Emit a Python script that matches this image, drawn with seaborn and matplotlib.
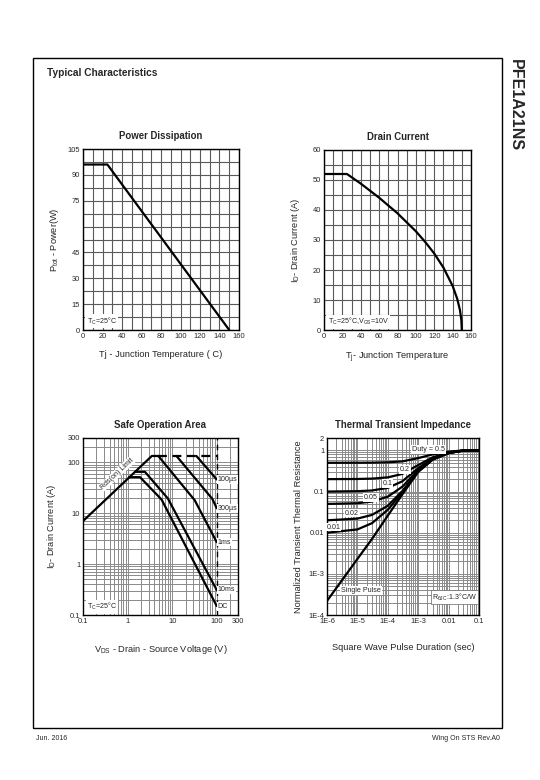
import matplotlib
matplotlib.use("Agg")
import matplotlib.pyplot as plt
import numpy as np
import seaborn as sns
from matplotlib.patches import Rectangle
from matplotlib.ticker import FixedLocator, LogLocator, MultipleLocator, NullFormatter

# Power dissipation vs junction temperature
pd_temp = [0, 25, 150]
pd_power = [96, 96, 0]

# Drain current vs junction temperature
dc_temp = [0, 25, 40, 60, 80, 100, 110, 120, 130, 140, 145, 148, 149.5, 150]
dc_current = [52, 52, 48.8, 44.1, 38.9, 32.9, 29.4, 25.5, 20.8, 14.7, 10.4, 6.6, 3.3, 0]

# Safe operating area (V, A)
soa_rds_v = [0.1, 3.5, 4.9]
soa_rds_i = [7, 133, 133]
soa_dash_v = [4.9, 100]
soa_dash_i = [133, 133]
soa_100us_v = [35, 100]
soa_100us_i = [133, 46]
soa_300us_v = [12.5, 80, 100]
soa_300us_i = [133, 19, 12.5]
soa_1ms_v = [4.9, 32, 100]
soa_1ms_i = [133, 18, 2.7]
soa_10ms_v = [1.47, 2.45, 8, 100]
soa_10ms_i = [65, 65, 19.5, 0.31]
soa_dc_v = [1.09, 1.9, 5.8, 100]
soa_dc_i = [51, 51, 18.5, 0.15]
soa_vds_max = 100

# Transient thermal impedance
tt_time = [1e-6, 1e-5, 3e-5, 1e-4, 3e-4, 1e-3, 3e-3, 1e-2, 3e-2, 1e-1]
tt_single = [2.2e-4, 2.3e-3, 7e-3, 0.026, 0.085, 0.30, 0.60, 0.86, 0.99, 1.0]
tt_d05 = [0.5, 0.501, 0.504, 0.513, 0.54, 0.65, 0.80, 0.93, 0.995, 1.0]
tt_d02 = [0.2, 0.202, 0.206, 0.221, 0.268, 0.44, 0.68, 0.89, 0.99, 1.0]
tt_d01 = [0.1, 0.102, 0.106, 0.123, 0.177, 0.37, 0.64, 0.87, 0.99, 1.0]
tt_d005 = [0.05, 0.052, 0.057, 0.075, 0.131, 0.335, 0.62, 0.87, 0.99, 1.0]
tt_d002 = [0.02, 0.022, 0.027, 0.045, 0.103, 0.314, 0.61, 0.86, 0.99, 1.0]
tt_d001 = [0.01, 0.012, 0.017, 0.036, 0.094, 0.307, 0.60, 0.86, 0.99, 1.0]

sns.set_style("white")
plt.rcParams["font.family"] = ["Liberation Sans", "DejaVu Sans"]
plt.rcParams["mathtext.default"] = "regular"

W, H = 540, 780
LW = 1.6
TICK_FS = 5.4
LABEL_FS = 6.7
TITLE_FS = 6.9
NOTE_FS = 5.1


def box(x0, y0, x1, y1):
    return [x0 / W, 1 - y1 / H, (x1 - x0) / W, (y1 - y0) / H]


def frame(ax, title):
    ax.set_title(title, fontsize=TITLE_FS, fontweight="bold", pad=7)
    for s in ax.spines.values():
        s.set_color("black")
        s.set_linewidth(1.0)
        s.set_visible(True)
    ax.tick_params(which="both", length=0, pad=2, labelsize=TICK_FS)
    ax.set_axisbelow(True)


def curve(ax, x, y, **kw):
    sns.lineplot(x=x, y=y, ax=ax, color="black", linewidth=LW, sort=False, **kw)


fig = plt.figure(figsize=(5.4, 7.8), dpi=100)

# page frame and headers
fig.add_artist(Rectangle((33 / W, 1 - 728 / H), (502 - 33) / W, (728 - 58) / H,
                         transform=fig.transFigure, fill=False, lw=1.0, ec="black"))
fig.text(47 / W, 1 - 73 / H, "Typical Characteristics", fontsize=7.3, fontweight="bold",
         va="center", ha="left")
fig.text(515 / W, 1 - 105 / H, "PFE1A21NS", fontsize=11.5, fontweight="bold",
         rotation=-90, va="center", ha="center")
fig.text(36 / W, 1 - 738 / H, "Jun. 2016", fontsize=5, va="center", ha="left")
fig.text(500 / W, 1 - 738 / H, "Wing On STS Rev.A0", fontsize=5, va="center", ha="right")

# Power dissipation
ax1 = fig.add_axes(box(83, 149, 239, 330))
curve(ax1, pd_temp, pd_power)
ax1.set_xlim(0, 160)
ax1.set_ylim(0, 105)
ax1.xaxis.set_major_locator(MultipleLocator(20))
ax1.xaxis.set_minor_locator(MultipleLocator(10))
ax1.yaxis.set_major_locator(FixedLocator([0, 15, 30, 45, 75, 90, 105]))
ax1.yaxis.set_minor_locator(MultipleLocator(7.5))
ax1.grid(which="both", color="#5a5a5a", lw=0.8)
frame(ax1, "Power Dissipation")
ax1.set_xlabel("Tj - Junction Temperature ( C)", fontsize=LABEL_FS)
ax1.set_ylabel("P$_{tot}$ - Power(W)", fontsize=LABEL_FS)
ax1.xaxis.set_label_coords(0.5, -0.11)
ax1.yaxis.set_label_coords(-0.14, 0.5)
ax1.text(4, 5, "T$_{C}$=25°C", fontsize=NOTE_FS, va="center", ha="left",
         bbox=dict(fc="white", ec="none", pad=1))

# Drain current
ax2 = fig.add_axes(box(324, 150, 471, 330))
curve(ax2, dc_temp, dc_current)
ax2.set_xlim(0, 160)
ax2.set_ylim(0, 60)
ax2.xaxis.set_major_locator(MultipleLocator(20))
ax2.xaxis.set_minor_locator(MultipleLocator(10))
ax2.yaxis.set_major_locator(MultipleLocator(10))
ax2.yaxis.set_minor_locator(MultipleLocator(5))
ax2.grid(which="both", color="#5a5a5a", lw=0.8)
frame(ax2, "Drain Current")
ax2.set_xlabel("T$_{j}$- Junction Temperature", fontsize=LABEL_FS)
ax2.set_ylabel("I$_{D}$- Drain Current (A)", fontsize=LABEL_FS)
ax2.xaxis.set_label_coords(0.5, -0.11)
ax2.yaxis.set_label_coords(-0.15, 0.5)
ax2.text(4, 2.8, "T$_{C}$=25°C,V$_{GS}$=10V", fontsize=NOTE_FS, va="center", ha="left",
         bbox=dict(fc="white", ec="none", pad=1))


def log_axes(ax):
    ax.set_xscale("log")
    ax.set_yscale("log")
    for a in (ax.xaxis, ax.yaxis):
        a.set_minor_locator(LogLocator(base=10, subs=np.arange(2, 10), numticks=20))
        a.set_minor_formatter(NullFormatter())
    ax.grid(which="both", color="#8a8a8a", lw=0.7)


# Safe operating area
ax3 = fig.add_axes(box(83, 438, 238, 615))
log_axes(ax3)
ax3.set_xlim(0.1, 300)
ax3.set_ylim(0.1, 300)
ax3.axvline(soa_vds_max, color="black", lw=1.0, ls=(0, (4, 3)), zorder=2)
curve(ax3, soa_rds_v, soa_rds_i)
sns.lineplot(x=soa_dash_v, y=soa_dash_i, ax=ax3, color="black", linewidth=LW,
             linestyle=(0, (4, 2.5)), sort=False)
curve(ax3, soa_100us_v, soa_100us_i)
curve(ax3, soa_300us_v, soa_300us_i)
curve(ax3, soa_1ms_v, soa_1ms_i)
curve(ax3, soa_10ms_v, soa_10ms_i)
curve(ax3, soa_dc_v, soa_dc_i)
ax3.xaxis.set_major_locator(FixedLocator([0.1, 1, 10, 100, 300]))
ax3.set_xticklabels(["0.1", "1", "10", "100", "300"])
ax3.yaxis.set_major_locator(FixedLocator([0.1, 1, 10, 100, 300]))
ax3.set_yticklabels(["0.1", "1", "10", "100", "300"])
frame(ax3, "Safe Operation Area")
ax3.set_xlabel("V$_{DS}$ - Drain - Source Voltage (V)", fontsize=LABEL_FS)
ax3.set_ylabel("I$_{D}$- Drain Current (A)", fontsize=LABEL_FS)
ax3.xaxis.set_label_coords(0.5, -0.16)
ax3.yaxis.set_label_coords(-0.16, 0.5)
soa_notes = [("100µs", 46), ("300µs", 12.5), ("1ms", 2.7), ("10ms", 0.31), ("DC", 0.145)]
for txt, yv in soa_notes:
    ax3.text(104, yv, txt, fontsize=NOTE_FS, va="center", ha="left",
             bbox=dict(fc="white", ec="none", pad=0.6))
ax3.text(0.58, 60, "Rds(on) Limit", fontsize=NOTE_FS, rotation=43, va="center", ha="center",
         bbox=dict(fc="white", ec="none", pad=0.5))
ax3.text(0.125, 0.145, "T$_{C}$=25°C", fontsize=NOTE_FS, va="center", ha="left",
         bbox=dict(fc="white", ec="none", pad=0.8))

# Thermal transient impedance
ax4 = fig.add_axes(box(327, 438, 479, 615))
log_axes(ax4)
ax4.set_xlim(1e-6, 0.1)
ax4.set_ylim(1e-4, 2)
for series in (tt_single, tt_d05, tt_d02, tt_d01, tt_d005, tt_d002, tt_d001):
    curve(ax4, tt_time, series)
ax4.xaxis.set_major_locator(FixedLocator([1e-6, 1e-5, 1e-4, 1e-3, 1e-2, 1e-1]))
ax4.set_xticklabels(["1E-6", "1E-5", "1E-4", "1E-3", "0.01", "0.1"])
ax4.yaxis.set_major_locator(FixedLocator([1e-4, 1e-3, 1e-2, 1e-1, 1, 2]))
ax4.set_yticklabels(["1E-4", "1E-3", "0.01", "0.1", "1", "2"])
frame(ax4, "Thermal Transient Impedance")
ax4.set_xlabel("Square Wave Pulse Duration (sec)", fontsize=LABEL_FS)
ax4.set_ylabel("Normalized Transient Thermal Resistance", fontsize=LABEL_FS)
ax4.xaxis.set_label_coords(0.5, -0.16)
ax4.yaxis.set_label_coords(-0.16, 0.5)
tt_notes = [("Duty = 0.5", 2.2e-3, 1.05), ("0.2", 3.7e-4, 0.34), ("0.1", 9.8e-5, 0.156),
            ("0.05", 2.75e-5, 0.073), ("0.02", 6.6e-6, 0.030), ("0.01", 1.65e-6, 0.0137),
            ("Single Pulse", 1.3e-5, 3.9e-4)]
for txt, xv, yv in tt_notes:
    ax4.text(xv, yv, txt, fontsize=NOTE_FS, va="center", ha="center",
             bbox=dict(fc="white", ec="none", pad=0.6))
ax4.text(0.085, 2.7e-4, "R$_{\\theta JC}$:1.3°C/W", fontsize=NOTE_FS, va="center", ha="right",
         bbox=dict(fc="white", ec="#666666", lw=0.5, pad=1))

fig.savefig("out.png", dpi=100)
